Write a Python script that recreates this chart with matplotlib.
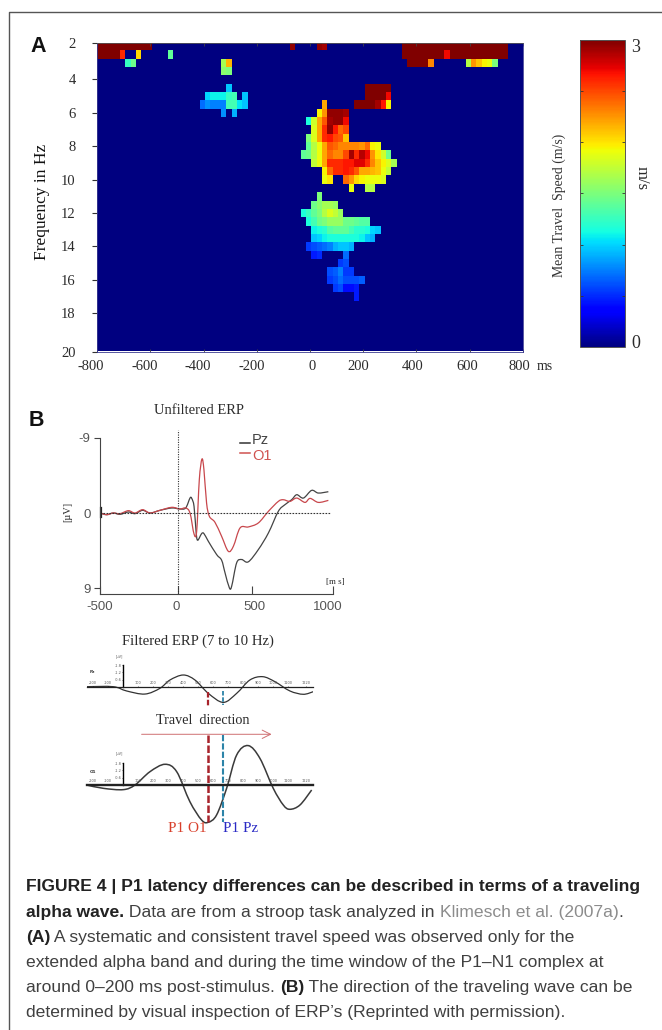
import numpy as np
import matplotlib
matplotlib.use("Agg")
import matplotlib.pyplot as plt
from matplotlib.patches import PathPatch
from matplotlib.path import Path
from matplotlib.transforms import ScaledTranslation

W, H = 662, 1030

# Panel A: travel speed in m/s, cells given as (row, first column, values)
# row 0 is 2 Hz and each row is 0.5 Hz, column 0 is -800 ms and each is 20 ms
n = np.nan
top_band = [
    (0, 0, [3.0] * 10),
    (0, 36, [2.95]),
    (0, 41, [2.95, 2.9]),
    (0, 57, [3.0] * 20),
    (1, 0, [3.0, 3.0, 3.0, 3.0, 2.6, n, n, 2.05]),
    (1, 13, [1.4]),
    (1, 57, [3.0] * 8 + [2.7] + [3.0] * 11),
    (2, 5, [1.25, 1.45]),
    (2, 23, [1.65, 2.15]),
    (2, 58, [3.0, 3.0, 3.0, 3.0, 2.3]),
    (2, 69, [1.7, 2.25, 2.1, 1.95, 1.9, 1.5]),
    (3, 23, [1.55, 1.5]),
]
theta_cluster = [
    (5, 24, [0.95]),
    (6, 20, [1.0, 1.1, 1.1, 1.1, 1.25, 1.3, n, 0.95]),
    (7, 19, [0.7, 0.8, 0.75, 0.75, 0.75, 1.3, 1.3, 1.05, 0.95]),
    (8, 23, [0.8, n, 0.9]),
]
late_block = [
    (5, 50, [3.0] * 5),
    (6, 50, [3.0, 3.0, 3.0, 3.0, 2.7]),
    (7, 48, [3.0, 3.0, 3.0, 3.0, 2.9, 2.65, 1.95]),
]
alpha_cluster = [
    (7, 42, [2.2]),
    (8, 41, [1.95, 2.25, 2.95, 2.95, 2.95, 2.9]),
    (9, 39, [1.15, 1.8, 2.2, 2.45, 2.9, 2.95, 2.95, 2.7]),
    (10, 40, [1.85, 2.2, 2.6, 2.95, 2.65, 2.4, 2.5]),
    (11, 39, [1.5, 1.85, 2.2, 2.6, 2.65, 2.5, 2.45, 2.1]),
    (12, 39, [1.4, 1.7, 1.9, 2.2, 2.45, 2.4, 2.3, 2.3, 2.3, 2.3, 2.25, 2.4, 1.95, 1.9]),
    (13, 38, [1.4, 1.45, 1.7, 1.9, 2.2, 2.4, 2.3, 2.3, 2.5, 2.9, 2.6, 2.85, 2.7, 2.25, 2.0, 1.8, 1.45]),
    (14, 40, [1.75, 1.9, 2.2, 2.6, 2.6, 2.6, 2.65, 2.65, 2.75, 2.75, 2.6, 2.3, 2.1, 1.95, 1.85, 1.65]),
    (15, 42, [1.95, 2.4, 2.6, 2.6, 2.65, 2.6, 2.45, 2.2, 2.2, 2.15, 2.1, 1.9, 1.75]),
    (16, 42, [1.9, 2.0, n, n, 2.4, 2.25, 2.05, 1.95, 1.9, 1.9, 1.9, 1.85]),
    (17, 47, [1.9, n, n, 1.7, 1.7]),
]
beta_cluster = [
    (18, 41, [1.5]),
    (19, 40, [1.45, 1.55, 1.65, 1.65, 1.6]),
    (20, 38, [1.15, 1.25, 1.4, 1.5, 1.7, 1.85, 1.75, 1.6]),
    (21, 39, [1.15, 1.3, 1.45, 1.5, 1.6, 1.6, 1.6, 1.45, 1.45, 1.4, 1.35, 1.35]),
    (22, 40, [1.1, 1.15, 1.2, 1.35, 1.4, 1.4, 1.4, 1.3, 1.2, 1.2, 1.15, 1.0, 0.95]),
    (23, 40, [0.95, 1.0, 1.1, 1.15, 1.15, 1.15, 1.15, 1.15, 1.15, 1.1, 0.95, 0.9]),
    (24, 39, [0.55, 0.6, 0.65, 0.7, 0.75, 0.9, 0.95, 0.95, 0.9]),
    (25, 40, [0.45, 0.5, n, n, n, n, 0.7]),
    (26, 45, [0.55, 0.6]),
    (27, 43, [0.6, 0.65, 0.75, 0.55, 0.55]),
    (28, 43, [0.55, 0.6, 0.7, 0.6, 0.6, 0.6, 0.65]),
    (29, 44, [0.55, 0.6, 0.4, 0.4, 0.45]),
    (30, 48, [0.45]),
]
freq_ticks = [1.85, 4, 6, 8, 10, 12, 14, 16, 18, 20.3]
freq_labels = [2, 4, 6, 8, 10, 12, 14, 16, 18, 20]
time_ticks = [-800, -600, -400, -200, 0, 200, 400, 600, 800]

# Panel B: unfiltered ERP, ms and microvolts
pz_t = [-500, -459, -416, -373, -319, -276, -227, -179, -115, -39, 14, 51, 79, 90, 105, 118, 128, 154, 169, 197, 251, 283, 305, 333, 348, 380, 412, 455, 520, 585, 649, 692, 735, 768, 811, 864, 907, 972]
pz_v = [0, 0.2, 0, 0.16, -0.12, 0.08, -0.32, 0, -0.32, -0.6, -0.48, -0.6, -1.79, -1.75, -0.8, 2.19, 3.26, 2.47, 2.47, 3.38, 4.98, 5.65, 7.16, 8.96, 8.76, 5.97, 5.57, 5.85, 4.38, 2.39, -0.2, -1.0, -1.59, -2.19, -1.79, -2.71, -2.39, -2.55]
o1_t = [-500, -459, -416, -373, -319, -276, -227, -179, -115, -39, 14, 51, 79, 105, 122, 139, 156, 169, 186, 204, 240, 283, 326, 359, 402, 455, 520, 585, 649, 681, 724, 768, 821, 854, 907, 972]
o1_v = [0, 0.2, 0, 0.08, -0.28, 0, -0.4, 0, -0.32, -0.68, -0.48, -0.6, 0, 2.51, 2.19, -3.98, -6.45, -5.17, -1.19, 0.4, 1.11, 2.79, 4.58, 3.98, 1.79, 1.67, 1.19, -0.2, -1.39, -1.59, -1.39, -1.79, -1.27, -1.75, -1.27, -1.51]
erp_xticks = [-500, 0, 477, 1000]
erp_xlabels = ["-500", "0", "500", "1000"]

# Panel B: filtered ERP (7 to 10 Hz)
filt_pz_t = [-244, -67, 22, 144, 244, 311, 400, 478, 567, 667, 756, 844, 929, 1011, 1111, 1200, 1267]
filt_pz_v = [0, 0, 0.36, 0.62, 0.14, -0.56, -0.98, -0.56, 0.56, 1.32, 0.56, -0.56, -0.84, -0.42, 0.36, 0.64, 0.42]
filt_o1_t = [-244, -133, 0, 78, 178, 278, 356, 444, 522, 567, 622, 689, 756, 833, 911, 1000, 1067, 1111, 1178, 1256]
filt_o1_v = [0.03, 0.31, 0.42, 0.03, -1.09, -1.71, -1.09, 1.43, 2.97, 3.16, 2.55, 0.31, -2.49, -3.28, -2.21, 0.31, 1.71, 2.07, 1.71, 0.45]
filt_ticks = [-200, -100, 100, 200, 300, 400, 500, 600, 700, 800, 900, 1000, 1100, 1220]
filt_yticks = [-1.8, -1.2, -0.6]
p1_o1_t = 567
p1_pz_t = 667

caption = [
    [("FIGURE 4 | P1 latency differences can be described in terms of a traveling", "b")],
    [("alpha wave.", "b"), (" Data are from a stroop task analyzed in ", "n"), ("Klimesch et al. (2007a)", "l"), (".", "n")],
    [("(A)", "b"), (" A systematic and consistent travel speed was observed only for the", "n")],
    [("extended alpha band and during the time window of the P1\u2013N1 complex at", "n")],
    [("around 0\u2013200 ms post-stimulus. ", "n"), ("(B)", "b"), (" The direction of the traveling wave can be", "n")],
    [("determined by visual inspection of ERP\u2019s (Reprinted with permission).", "n")],
]

SERIF = "Liberation Serif"
DARK = "#2b2b2b"


def px_axes(x0, y0, x1, y1):
    return fig.add_axes([x0 / W, 1 - y1 / H, (x1 - x0) / W, (y1 - y0) / H])


def px_text(x, y, s, **kw):
    kw.setdefault("ha", "center")
    kw.setdefault("va", "center")
    kw.setdefault("color", DARK)
    return fig.text(x / W, 1 - y / H, s, **kw)


def smooth_line(a, xs, ys, **kw):
    # bezier through the read points, the traces are smooth in the original
    p = np.column_stack([xs, ys]).astype(float)
    p = np.vstack([p[0], p, p[-1]])
    verts = [p[1]]
    codes = [Path.MOVETO]
    for i in range(1, len(p) - 2):
        verts += [p[i] + (p[i + 1] - p[i - 1]) / 6, p[i + 1] - (p[i + 2] - p[i]) / 6, p[i + 1]]
        codes += [Path.CURVE4] * 3
    a.add_patch(PathPatch(Path(verts, codes), fill=False, **kw))


fig = plt.figure(figsize=(W / 100, H / 100), dpi=100)

# frame of the page
fig.add_artist(plt.Line2D([9 / W, 9 / W, 1], [0, 1 - 11.5 / H, 1 - 11.5 / H], color="#555555", lw=1.0))

# A: heat map
speed = np.zeros((37, 80))
for group in [top_band, theta_cluster, late_block, alpha_cluster, beta_cluster]:
    for row, col, values in group:
        for i, v in enumerate(values):
            if not np.isnan(v):
                speed[row, col + i] = v

x_edges = -800 + (np.arange(81) + 0.27) * 20
x_edges[0] = -800
y_edges = 1.75 + 0.5 * np.arange(38)

ax = px_axes(97.3, 43.5, 522.7, 351.7)
mesh = ax.pcolormesh(x_edges, y_edges, speed, cmap="jet", vmin=0, vmax=3)
ax.set_xlim(-800, 800)
ax.set_ylim(20.3, 1.85)
ax.set_yticks(freq_ticks)
ax.set_yticklabels(freq_labels, family=SERIF, fontsize=10.5, color=DARK)
ax.tick_params(axis="y", length=3.5, width=0.8, pad=12, color="#333333")
ax.set_xticks(time_ticks)
ax.set_xticklabels(time_ticks, family=SERIF, fontsize=10.5, color=DARK)
ax.tick_params(axis="x", direction="in", length=2, width=0.6, top=True, pad=6, color="#444444")
label_shift = [-6.6, -5.8, -6.2, -5.3, 1.9, -4.7, -3.6, -2.2, -3.7]
for lab, dx in zip(ax.get_xticklabels(), label_shift):
    lab.set_transform(lab.get_transform() + ScaledTranslation(dx / 100, 0, fig.dpi_scale_trans))
for side in ax.spines:
    ax.spines[side].set_linewidth(0.6)
    ax.spines[side].set_color("#3a3a90")
ax.spines["top"].set_color("#555555")

px_text(545, 366, "ms", family=SERIF, fontsize=10)
px_text(42, 202, "Frequency in Hz", family=SERIF, fontsize=12.5, rotation=90, color="#111111")
px_text(38, 46, "A", family="Liberation Sans", weight="bold", fontsize=15.5, color="#111111")
px_text(36, 421, "B", family="Liberation Sans", weight="bold", fontsize=15.5, color="#111111")

# A: colour bar
cax = px_axes(580, 40, 625, 347)
cb = fig.colorbar(mesh, cax=cax, ticks=[0.5, 1, 1.5, 2, 2.5])
cb.ax.tick_params(direction="in", left=True, right=True, labelright=False, length=2, width=0.6, color="#333333")
cb.outline.set_linewidth(0.7)
cb.outline.set_edgecolor("#555555")
px_text(636, 47, "3", family=SERIF, fontsize=13)
px_text(636, 343, "0", family=SERIF, fontsize=13)
px_text(642, 178, "m/s", family=SERIF, fontsize=12, rotation=-90)
px_text(559, 205, "Mean Travel  Speed (m/s)", family=SERIF, fontsize=9.9, rotation=90, color="#333333")

# B: unfiltered ERP
ax2 = px_axes(100.3, 430, 332.7, 594)
smooth_line(ax2, pz_t, pz_v, edgecolor="#444444", lw=0.9)
smooth_line(ax2, o1_t, o1_v, edgecolor="#c8474c", lw=0.9)
ax2.axvline(0, color="#333333", lw=0.8, ls=(0, (1, 1.2)))
ax2.plot([-500, 990], [0, 0], color="#333333", lw=0.8, ls=(0, (1.5, 1.2)))
ax2.set_xlim(-500, 1000)
ax2.set_ylim(9.7, -9.94)
ax2.spines["top"].set_visible(False)
ax2.spines["right"].set_visible(False)
ax2.spines["left"].set_bounds(9.7, -9)
ax2.spines["left"].set_color("#444444")
ax2.spines["bottom"].set_color("#444444")
ax2.set_xticks(erp_xticks)
ax2.set_xticklabels(erp_xlabels, family="Liberation Sans", fontsize=9.5, color="#555555")
ax2.tick_params(axis="x", direction="in", length=6, width=0.8, pad=5, color="#444444")
for lab, dx in zip(ax2.get_xticklabels(), [-1, -2, 3, -5]):
    lab.set_transform(lab.get_transform() + ScaledTranslation(dx / 100, 0, fig.dpi_scale_trans))
ax2.set_yticks([-9, 0, 9])
ax2.set_yticklabels(["-9", "0", "9"], family="Liberation Sans", fontsize=9.5, color="#555555")
ax2.tick_params(axis="y", length=4, width=0.8, pad=3, color="#444444")
ax2.get_yticklines()[2].set_visible(False)
ax2.get_yticklines()[3].set_visible(False)
ax2.plot([-497, -497], [-0.6, 0.5], color="#222222", lw=1.6, clip_on=False)

px_text(199, 411, "Unfiltered ERP", family=SERIF, fontsize=10.5)
px_text(68, 512, "[\u00b5V]", family=SERIF, fontsize=7.5, rotation=90)
px_text(335, 582, "[m s]", family=SERIF, fontsize=6.5)
fig.add_artist(plt.Line2D([240 / W, 250 / W], [1 - 443 / H] * 2, color="#333333", lw=1.1))
fig.add_artist(plt.Line2D([240 / W, 250 / W], [1 - 452.5 / H] * 2, color="#d0524f", lw=1.1))
px_text(252, 440, "Pz", family="Liberation Sans", fontsize=10.5, ha="left", color="#444444")
px_text(252, 456, "O1", family="Liberation Sans", fontsize=10.5, ha="left", color="#d0524f")

# B: filtered ERP
px_text(198, 641, "Filtered ERP (7 to 10 Hz)", family=SERIF, fontsize=10.6)
px_text(203, 721, "Travel  direction", family=SERIF, fontsize=10.2)

axf1 = px_axes(86.7, 655, 313.3, 709.3)
axf2 = px_axes(86.7, 725, 313.3, 825)
smooth_line(axf1, filt_pz_t, filt_pz_v, edgecolor="#333333", lw=0.9)
smooth_line(axf2, filt_o1_t, filt_o1_v, edgecolor="#3a3a3a", lw=1.1)
axf1.set_ylim(1.9, -2.66)
axf2.set_ylim(3.39, -5.01)
for a, axis_lw in [(axf1, 0.9), (axf2, 1.7)]:
    a.patch.set_visible(False)
    a.set_xlim(-244, 1267)
    a.spines["bottom"].set_visible(False)
    a.spines["right"].set_visible(False)
    a.spines["top"].set_position(("data", 0))
    a.spines["top"].set_linewidth(axis_lw)
    a.spines["top"].set_color("#222222")
    a.spines["left"].set_position(("data", 0))
    a.spines["left"].set_bounds(0, -1.85)
    a.spines["left"].set_linewidth(1.0)
    a.xaxis.tick_top()
    a.set_xticks(filt_ticks)
    a.set_xticklabels(filt_ticks, fontsize=2.5, color="#555555")
    a.tick_params(axis="x", length=1, width=0.4, pad=0.5)
    a.set_yticks(filt_yticks)
    a.set_yticklabels(filt_yticks, fontsize=2.5, color="#555555")
    a.tick_params(axis="y", length=1, width=0.4, pad=0.5)
    a.text(-25, -2.45, "[\u00b5V]", fontsize=2.5, ha="center", color="#555555")

axf1.text(-222, -1.15, "Pz", fontsize=3, weight="bold", color="#333333")
axf2.text(-222, -1.0, "O1", fontsize=3, weight="bold", color="#333333")

axf1.plot([p1_o1_t, p1_o1_t], [0.42, 1.68], color="#a8232b", lw=1.6, ls=(0, (2.5, 1)))
axf1.plot([p1_pz_t, p1_pz_t], [0.36, 1.5], color="#2c84a8", lw=1.3, ls=(0, (2.5, 1)))
axf2.plot([p1_o1_t, p1_o1_t], [-4.15, 3.16], color="#a8232b", lw=1.8, ls=(0, (3, 1)))
axf2.plot([p1_pz_t, p1_pz_t], [-4.15, 3.16], color="#2c84a8", lw=1.5, ls=(0, (3, 1)))
axf2.annotate("", xy=(989, -4.23), xytext=(122, -4.23),
              arrowprops=dict(arrowstyle="->,head_length=0.6,head_width=0.3", color="#cf6f72", lw=0.7, shrinkA=0, shrinkB=0))

px_text(187, 829, "P1 O1", family=SERIF, fontsize=11, color="#d8402c")
px_text(241, 829, "P1 Pz", family=SERIF, fontsize=11, color="#2a2ac4")

# caption, each line is built from bold, normal and link pieces
styles = {
    "b": dict(weight="bold", color="#222222"),
    "n": dict(color="#404040"),
    "l": dict(color="#8c8c8c"),
}
renderer = fig.canvas.get_renderer()
for i, line in enumerate(caption):
    x = 26.0
    y = 887 + i * 25.2
    for s, kind in line:
        t = px_text(x, y, s, family="Liberation Sans", fontsize=12.6, ha="left", **styles[kind])
        x += t.get_window_extent(renderer).width

fig.savefig("out.png", dpi=100)
